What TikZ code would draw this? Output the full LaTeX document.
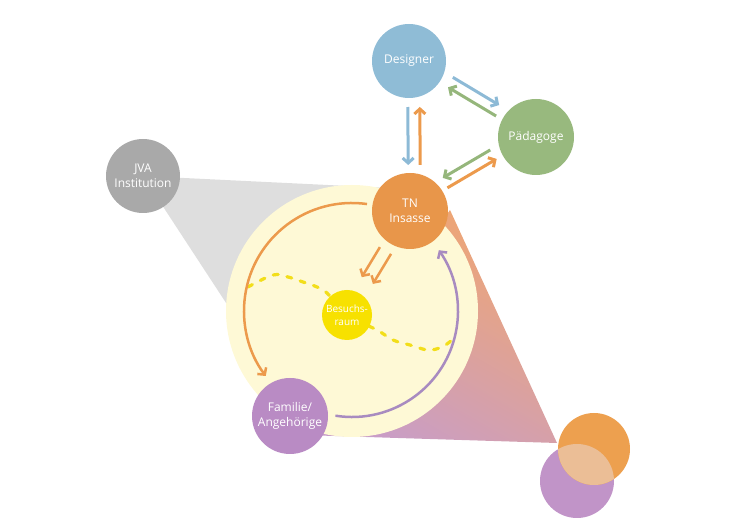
\documentclass[tikz,border=0pt]{standalone}
\usepackage{fontspec}
\setmainfont{Open Sans}
\usetikzlibrary{calc,arrows.meta}
\definecolor{cDes}{HTML}{8FBCD6}
\definecolor{cPed}{HTML}{98B97E}
\definecolor{cTN}{HTML}{E8964A}
\definecolor{cJVA}{HTML}{A9A9A9}
\definecolor{cFam}{HTML}{B98BC4}
\definecolor{cBes}{HTML}{F7E100}
\definecolor{cBig}{HTML}{FEF9D6}
\definecolor{cGray}{HTML}{DEDEDE}
\definecolor{cArB}{HTML}{8DBAD6}
\definecolor{cArG}{HTML}{95B67B}
\definecolor{cArO}{HTML}{EC9A4C}
\definecolor{cArP}{HTML}{A88BC0}
\definecolor{cDash}{HTML}{F2DE1A}
\definecolor{cOvO}{HTML}{EDA04F}
\definecolor{cOvP}{HTML}{C194C8}
\definecolor{cOvX}{HTML}{EBBE96}
\definecolor{cGrO}{HTML}{EFA672}
\definecolor{cGrP}{HTML}{C89DC8}
\begin{document}
\begin{tikzpicture}[x=1pt,y=1pt,
  circ/.style={circle,inner sep=0pt,text=white,align=center,
    font=\fontsize{12}{15}\selectfont},
  arr/.style={line width=3pt,-{Straight Barb[length=5pt,width=11pt]}},
  arcarr/.style={line width=2.5pt,-{Straight Barb[length=5pt,width=11pt]}},
]
\useasboundingbox (0,0) rectangle (750,530);
% centres
\coordinate (pDes) at (409,469);
\coordinate (pPed) at (536,393);
\coordinate (pTN) at (410,319);
\coordinate (pJVA) at (143,354);
\coordinate (pFam) at (290,114);
\coordinate (pBes) at (347,215);
\coordinate (pBig) at (352,219);
\coordinate (pOvO) at (594,81);
\coordinate (pOvP) at (577,49);
% polygons
\coordinate (gA) at (410,341);
\coordinate (gB) at (300,114);
\fill[cGray] (pJVA) -- (gA) -- (gB) -- cycle;
\coordinate (tA) at (450,320);
\coordinate (tB) at (557,87);
\coordinate (tC) at (290,95.4);
\shade[top color=cGrO, bottom color=cGrP, shading angle=-30] (tA) -- (tB) -- (tC) -- cycle;
% big circle
\node[circle,fill=cBig,minimum size=252pt,inner sep=0pt] (big) at (pBig) {};
% dashed curve
\draw[cDash,line width=3.2pt,line cap=round,dash pattern=on 5pt off 9pt]
  plot[smooth,tension=0.6] coordinates {(248,243) (273,255) (288,253) (303,248) (317,243) (327,237) (347,215) (377,200) (393,190) (410,185) (428,180) (442,183) (452,190)};
% arcs
\draw[arcarr,cArO] ($(big.center)+(82:108)$) arc[start angle=82,end angle=217,radius=108];
\draw[arcarr,cArP] ($(big.center)+(-99:106)$) arc[start angle=-99,end angle=35,radius=106];
% circles
\node[circ,fill=cBes,minimum size=50pt,font=\fontsize{10}{13}\selectfont] (bes) at (pBes) {Besuchs-\\raum};
\node[circ,fill=cTN,minimum size=76pt] (tn) at (pTN) {TN\\Insasse};
\node[circ,fill=cDes,minimum size=74pt] (des) at (pDes) {Designer};
\node[circ,fill=cPed,minimum size=76pt] (ped) at (pPed) {Pädagoge};
\node[circ,fill=cJVA,minimum size=74pt] (jva) at (pJVA) {JVA\\Institution};
\node[circ,fill=cFam,minimum size=76pt] (fam) at (pFam) {Familie/\\Angehörige};
% overlapping circles
\node[circle,fill=cOvP,minimum size=74pt,inner sep=0pt] (ovp) at (pOvP) {};
\node[circle,fill=cOvO,minimum size=72pt,inner sep=0pt] (ovo) at (pOvO) {};
\begin{scope}
  \clip (pOvP) circle (37);
  \fill[cOvX] (pOvO) circle (36);
\end{scope}
% arrows
\draw[arr,cArB] ($(des)!46pt!(tn)!-1.5pt!90:(tn)$) -- ($(tn)!46pt!(des)!-1.5pt!-90:(des)$);
\draw[arr,cArO] ($(tn)!46pt!(des)!-10.5pt!90:(des)$) -- ($(des)!46pt!(tn)!-10.5pt!-90:(tn)$);
\draw[arr,cArB] ($(des)!46pt!(ped)!8.5pt!90:(ped)$) -- ($(ped)!48pt!(des)!8.5pt!-90:(des)$);
\draw[arr,cArG] ($(ped)!45pt!(des)!2.5pt!90:(des)$) -- ($(des)!47pt!(ped)!2.5pt!-90:(ped)$);
\draw[arr,cArO] ($(tn)!44pt!(ped)!1pt!90:(ped)$) -- ($(ped)!45pt!(tn)!1pt!-90:(tn)$);
\draw[arr,cArG] ($(ped)!46pt!(tn)!-12pt!90:(tn)$) -- ($(tn)!45pt!(ped)!-12pt!-90:(ped)$);
\draw[arr,cArO,line width=2.5pt] ($(tn)!46.5pt!(bes)!-7pt!90:(bes)$) -- ($(bes)!40pt!(tn)!-7pt!-90:(tn)$);
\draw[arr,cArO,line width=2.5pt] ($(tn)!46.5pt!(bes)!6pt!90:(bes)$) -- ($(bes)!40pt!(tn)!6pt!-90:(tn)$);
\end{tikzpicture}
\end{document}
